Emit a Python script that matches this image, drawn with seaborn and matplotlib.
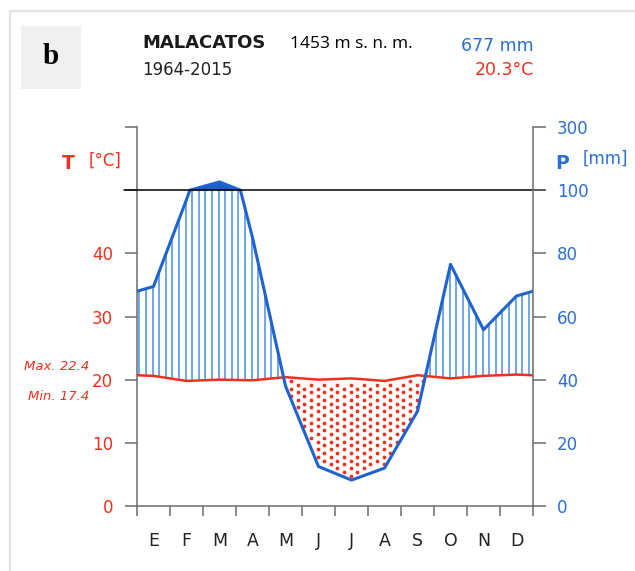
import numpy as np
import pandas as pd
import matplotlib
matplotlib.use("Agg")
import matplotlib.pyplot as plt
from matplotlib.lines import Line2D
from matplotlib.patches import Rectangle
import seaborn as sns

# Monthly climate normals, Malacatos 1964-2015
months = ["E", "F", "M", "A", "M", "J", "J", "A", "S", "O", "N", "D"]
precip_mm = [69.5, 97.0, 126.0, 85.0, 38.0, 12.5, 8.2, 12.0, 30.0, 76.5, 55.8, 66.5]
temp_c = [20.6, 19.8, 20.0, 19.9, 20.4, 20.0, 20.2, 19.8, 20.7, 20.2, 20.6, 20.8]

station = "MALACATOS"
altitude = "1453 m s. n. m."
period = "1964-2015"
annual_p = "677 mm"
annual_t = "20.3°C"
abs_max = "Max. 22.4"
abs_min = "Min. 17.4"

left_ticks = [0, 10, 20, 30, 40, 50, 60]
left_labels = ["0", "10", "20", "30", "40", "", ""]
right_labels = ["0", "20", "40", "60", "80", "100", "300"]

RED = "#f0301e"
BLUE = "#1f63cf"
BLUE_TXT = "#2c6fd3"
HATCH = "#64a0e9"
SOLID = "#1b5ec7"
GREY = "#6b6b6b"

sns.set_theme(style="white")
plt.rcParams["font.family"] = ["DejaVu Sans"]


def scale_p(p):
    p = np.asarray(p, dtype=float)
    return np.where(p <= 100, p / 2.0, 50.0 + (p - 100.0) / 20.0)


# Wrap Dec/Jan to the plot edges, month values at month centres
x_m = np.arange(12) + 0.5
x_full = np.concatenate([[0.0], x_m, [12.0]])
p_edge = (precip_mm[-1] + precip_mm[0]) / 2
t_edge = (temp_c[-1] + temp_c[0]) / 2
p_full = np.concatenate([[p_edge], precip_mm, [p_edge]])
t_full = np.concatenate([[t_edge], temp_c, [t_edge]])

# Insert the 100 mm crossings so the scale change gives a kink
xd, pdd = [x_full[0]], [p_full[0]]
for i in range(len(x_full) - 1):
    x0, x1, p0, p1 = x_full[i], x_full[i + 1], p_full[i], p_full[i + 1]
    if (p0 - 100) * (p1 - 100) < 0:
        xc = x0 + (100 - p0) / (p1 - p0) * (x1 - x0)
        xd.append(xc)
        pdd.append(100.0)
    xd.append(x1)
    pdd.append(p1)
xd = np.array(xd)
ps = scale_p(pdd)

df_p = pd.DataFrame({"x": xd, "p": ps})
df_t = pd.DataFrame({"x": x_full, "t": t_full})

fig = plt.figure(figsize=(6.35, 5.71), dpi=100)
W, H = 635, 571


def fx(x):
    return x / W


def fy(y):
    return 1 - y / H


ax = fig.add_axes([fx(137), fy(506), (533 - 137) / W, (506 - 127) / H])
ax.set_xlim(0, 12)
ax.set_ylim(0, 60)

# Humid period: vertical blue hatching between temperature and precipitation
xl = (np.arange(60) + 0.35) * 0.2
t_at = np.interp(xl, df_t["x"], df_t["t"])
p_at = np.interp(xl, df_p["x"], df_p["p"])
wet = p_at > t_at
ax.vlines(xl[wet], t_at[wet], np.minimum(p_at[wet], 50), color=HATCH, lw=1.3, zorder=2)

# Precipitation above 100 mm: solid fill
ax.fill_between(df_p["x"], 50, df_p["p"], where=df_p["p"] >= 50, color=SOLID,
                lw=0, zorder=2)

# Dry period: staggered red dots
dy = 1.2
dots_x, dots_y = [], []
for k, xc in enumerate(xl):
    if p_at[k] >= t_at[k]:
        continue
    ys = np.arange(0, 60, dy) + (k % 2) * dy / 2
    sel = (ys < t_at[k] - 0.5) & (ys > p_at[k] + 0.5)
    dots_x += [xc] * int(sel.sum())
    dots_y += list(ys[sel])
ax.plot(dots_x, dots_y, ls="none", marker="o", ms=2.7, mew=0, color=RED, zorder=2)

sns.lineplot(data=df_t, x="x", y="t", ax=ax, color=RED, linewidth=1.8,
             estimator=None, sort=False, zorder=3)
sns.lineplot(data=df_p, x="x", y="p", ax=ax, color=BLUE, linewidth=2.2,
             estimator=None, sort=False, zorder=4)

# 100 mm reference line
ax.plot([-13 / 33, 12 + 12 / 33], [50, 50], color="black", lw=1.1,
        clip_on=False, zorder=5)

ax.set_xlabel("")
ax.set_ylabel("")
ax.set_xticks(range(13))
ax.set_xticklabels([])
ax.set_xticks(x_m, minor=True)
ax.set_xticklabels(months, minor=True)
ax.tick_params(axis="x", which="major", direction="out", length=7.2, width=1.1,
               color=GREY, bottom=True)
ax.tick_params(axis="x", which="minor", length=0, pad=19, labelsize=12.5,
               labelcolor="#222222", bottom=True)
ax.set_yticks(left_ticks)
ax.set_yticklabels(left_labels)
ax.tick_params(axis="y", direction="out", length=8.6, width=1.1, color=GREY,
               pad=8.5, labelsize=12, labelcolor=RED, left=True)

ax2 = ax.twinx()
ax2.set_ylim(0, 60)
ax2.set_yticks(left_ticks)
ax2.set_yticklabels(right_labels)
ax2.tick_params(axis="y", direction="out", length=9.4, width=1.1, color=GREY,
                pad=8, labelsize=12, labelcolor=BLUE_TXT, right=True)

for a in (ax, ax2):
    for s in a.spines.values():
        s.set_visible(False)
ax.spines["left"].set_visible(True)
ax.spines["bottom"].set_visible(True)
ax2.spines["right"].set_visible(True)
for s in (ax.spines["left"], ax.spines["bottom"], ax2.spines["right"]):
    s.set_color(GREY)
    s.set_linewidth(1.1)

# Axis titles
fig.text(fx(68), fy(164), "T", color=RED, fontsize=13.5, fontweight="bold",
         ha="center", va="center")
fig.text(fx(105), fy(161), "[°C]", color=RED, fontsize=12, ha="center", va="center")
fig.text(fx(562), fy(164), "P", color=BLUE_TXT, fontsize=13.5, fontweight="bold",
         ha="center", va="center")
fig.text(fx(605), fy(159), "[mm]", color=BLUE_TXT, fontsize=12, ha="center", va="center")

fig.text(fx(89), fy(366), abs_max, color=RED, fontsize=9.5, style="italic",
         ha="right", va="center")
fig.text(fx(89), fy(396), abs_min, color=RED, fontsize=9.5, style="italic",
         ha="right", va="center")

# Header
fig.patches.append(Rectangle((fx(21), fy(89)), (81 - 21) / W, (89 - 26) / H,
                             transform=fig.transFigure, color="#f0f0f0", lw=0))
fig.text(fx(51), fy(56), "b", fontsize=21, fontweight="bold",
         family=["Liberation Serif"], ha="center", va="center", color="black")
fig.text(fx(142), fy(43), station, fontsize=13, fontweight="bold",
         ha="left", va="center", color="#1a1a1a")
fig.text(fx(290), fy(44), altitude, fontsize=12.5, family=["Open Sans"],
         ha="left", va="center", color="black")
fig.text(fx(534), fy(46), annual_p, fontsize=12.5, ha="right", va="center",
         color=BLUE_TXT)
fig.text(fx(142), fy(70), period, fontsize=12, ha="left", va="center",
         color="#222222")
fig.text(fx(534), fy(70), annual_t, fontsize=12.5, ha="right", va="center",
         color=RED)

# Light frame around the panel
fig.lines.append(Line2D([fx(10), 1.0], [fy(11), fy(11)], transform=fig.transFigure,
                        color="#e2e2e2", lw=1.6))
fig.lines.append(Line2D([fx(10), fx(10)], [fy(11), 0.0], transform=fig.transFigure,
                        color="#e2e2e2", lw=1.6))

fig.savefig("out.png", dpi=100)
